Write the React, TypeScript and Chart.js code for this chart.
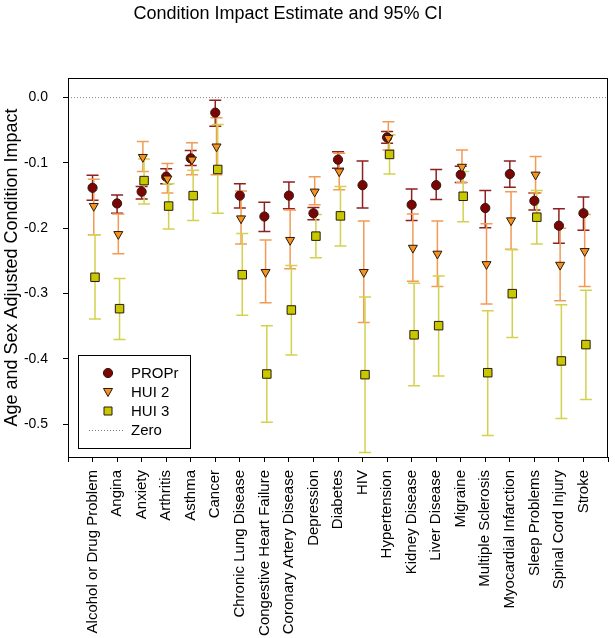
import React, { useEffect, useRef } from 'react';
import { Chart, registerables } from 'chart.js';

Chart.register(...registerables);

const TITLE = 'Condition Impact Estimate and 95% CI';
const Y_TITLE = 'Age and Sex Adjusted Condition Impact';

const CATEGORIES = [
  'Alcohol or Drug Problem', 'Angina', 'Anxiety', 'Arthritis', 'Asthma', 'Cancer',
  'Chronic Lung Disease', 'Congestive Heart Failure', 'Coronary Artery Disease',
  'Depression', 'Diabetes', 'HIV', 'Hypertension', 'Kidney Disease', 'Liver Disease',
  'Migraine', 'Multiple Sclerosis', 'Myocardial Infarction', 'Sleep Problems',
  'Spinal Cord Injury', 'Stroke',
];

const SERIES_NAMES = ['PROPr', 'HUI 2', 'HUI 3'];

const PROPR_EST = [-0.138, -0.162, -0.144, -0.121, -0.093, -0.023, -0.150, -0.182, -0.150, -0.177, -0.095, -0.134, -0.061, -0.164, -0.134, -0.118, -0.169, -0.117, -0.158, -0.196, -0.177];
const PROPR_HI = [-0.119, -0.149, -0.136, -0.109, -0.081, -0.004, -0.132, -0.160, -0.129, -0.168, -0.083, -0.097, -0.052, -0.140, -0.110, -0.105, -0.142, -0.097, -0.146, -0.170, -0.152];
const PROPR_LO = [-0.157, -0.177, -0.155, -0.132, -0.104, -0.044, -0.169, -0.205, -0.170, -0.187, -0.108, -0.169, -0.070, -0.188, -0.156, -0.130, -0.199, -0.137, -0.172, -0.223, -0.203];

const HUI2_EST = [-0.166, -0.209, -0.091, -0.124, -0.095, -0.075, -0.185, -0.267, -0.218, -0.144, -0.113, -0.267, -0.062, -0.230, -0.239, -0.106, -0.255, -0.188, -0.118, -0.256, -0.235];
const HUI2_HI = [-0.125, -0.178, -0.067, -0.101, -0.069, -0.031, -0.143, -0.218, -0.172, -0.121, -0.085, -0.189, -0.037, -0.178, -0.189, -0.080, -0.193, -0.144, -0.090, -0.200, -0.179];
const HUI2_LO = [-0.210, -0.239, -0.113, -0.146, -0.118, -0.118, -0.224, -0.314, -0.262, -0.164, -0.141, -0.344, -0.080, -0.281, -0.289, -0.130, -0.316, -0.232, -0.146, -0.311, -0.289];

const HUI3_EST = [-0.275, -0.323, -0.127, -0.166, -0.150, -0.110, -0.271, -0.423, -0.325, -0.212, -0.181, -0.424, -0.087, -0.363, -0.349, -0.151, -0.421, -0.300, -0.183, -0.403, -0.378];
const HUI3_HI = [-0.210, -0.277, -0.094, -0.132, -0.111, -0.041, -0.208, -0.349, -0.257, -0.179, -0.136, -0.305, -0.057, -0.284, -0.273, -0.113, -0.326, -0.233, -0.142, -0.317, -0.295];
const HUI3_LO = [-0.339, -0.370, -0.163, -0.201, -0.188, -0.177, -0.333, -0.497, -0.394, -0.245, -0.227, -0.543, -0.117, -0.441, -0.426, -0.190, -0.517, -0.367, -0.224, -0.491, -0.462];

const Y_TICKS = [0, -0.1, -0.2, -0.3, -0.4, -0.5];
const ZERO_LABEL = 'Zero';

const FONT = "'Liberation Sans', Arial, sans-serif";

const SERIES = [
  { name: SERIES_NAMES[0], est: PROPR_EST, lo: PROPR_LO, hi: PROPR_HI, fill: '#7d0404', ci: '#8e2020', style: 'circle', radius: 4.6, rot: 0, off: 0 },
  { name: SERIES_NAMES[1], est: HUI2_EST, lo: HUI2_LO, hi: HUI2_HI, fill: '#f7921e', ci: '#f39a55', style: 'triangle', radius: 5.2, rot: 180, off: 0.05 },
  { name: SERIES_NAMES[2], est: HUI3_EST, lo: HUI3_LO, hi: HUI3_HI, fill: '#c8c800', ci: '#d3d24f', style: 'rect', radius: 6, rot: 0, off: 0.1 },
];

const errorBarPlugin = {
  id: 'errorBars',
  beforeDatasetsDraw(chart: any) {
    const { ctx, scales } = chart;
    const xs = scales.x, ys = scales.y;
    ctx.save();
    SERIES.forEach((s) => {
      ctx.strokeStyle = s.ci;
      ctx.lineWidth = 1.5;
      s.est.forEach((_, i) => {
        const px = xs.getPixelForValue(i + s.off);
        const yl = ys.getPixelForValue(s.lo[i]);
        const yh = ys.getPixelForValue(s.hi[i]);
        ctx.beginPath();
        ctx.moveTo(px, yl); ctx.lineTo(px, yh);
        ctx.moveTo(px - 6, yl); ctx.lineTo(px + 6, yl);
        ctx.moveTo(px - 6, yh); ctx.lineTo(px + 6, yh);
        ctx.stroke();
      });
    });
    ctx.restore();
  },
};

const framePlugin = {
  id: 'frameTitleLegend',
  afterDraw(chart: any) {
    const { ctx, chartArea } = chart;
    const { left, right, top, bottom } = chartArea;
    ctx.save();
    ctx.strokeStyle = '#000';
    ctx.lineWidth = 1;
    ctx.strokeRect(Math.round(left) + 0.5, Math.round(top) + 0.5, Math.round(right - left) - 1, Math.round(bottom - top));
    ctx.fillStyle = '#000';
    ctx.font = `18px ${FONT}`;
    ctx.textAlign = 'center';
    ctx.textBaseline = 'middle';
    ctx.fillText(TITLE, 288, 14);
    const x0 = Math.round(left) + 10, y0 = Math.round(bottom) - 102, w = 112, h = 93;
    ctx.fillStyle = '#fff';
    ctx.fillRect(x0, y0, w, h);
    ctx.strokeStyle = '#000';
    ctx.strokeRect(x0 + 0.5, y0 + 0.5, w, h);
    const mx = x0 + 30, tx = x0 + 53;
    const rows = [18, 37, 56, 75];
    SERIES.forEach((s, k) => {
      const cy = y0 + rows[k];
      ctx.fillStyle = s.fill;
      ctx.strokeStyle = '#2a1a0a';
      ctx.lineWidth = 1;
      ctx.beginPath();
      if (s.style === 'circle') {
        ctx.arc(mx, cy, 4.6, 0, Math.PI * 2);
      } else if (s.style === 'triangle') {
        ctx.moveTo(mx - 4.5, cy - 3.5); ctx.lineTo(mx + 4.5, cy - 3.5); ctx.lineTo(mx, cy + 4.5); ctx.closePath();
      } else {
        ctx.rect(mx - 4, cy - 4, 8, 8);
      }
      ctx.fill();
      ctx.stroke();
      ctx.fillStyle = '#000';
      ctx.font = `15px ${FONT}`;
      ctx.textAlign = 'left';
      ctx.textBaseline = 'middle';
      ctx.fillText(s.name, tx, cy + 1);
    });
    const zy = y0 + rows[3];
    ctx.strokeStyle = '#777';
    ctx.setLineDash([1, 2]);
    ctx.beginPath();
    ctx.moveTo(x0 + 11, zy + 0.5); ctx.lineTo(x0 + 45, zy + 0.5);
    ctx.stroke();
    ctx.setLineDash([]);
    ctx.fillStyle = '#000';
    ctx.fillText(ZERO_LABEL, tx, zy + 1);
    ctx.restore();
  },
};

export default function App() {
  const ref = useRef<HTMLCanvasElement>(null);
  useEffect(() => {
    if (!ref.current) return;
    const n = CATEGORIES.length;
    const xTickValues = [-1, ...CATEGORIES.map((_, i) => i), n];
    const datasets: any[] = SERIES.map((s, k) => ({
      type: 'scatter',
      label: s.name,
      data: s.est.map((v, i) => ({ x: i + s.off, y: v })),
      pointStyle: s.style,
      pointRotation: s.rot,
      pointRadius: s.radius,
      pointBackgroundColor: s.fill,
      pointBorderColor: '#2a1a0a',
      pointBorderWidth: 1,
      showLine: false,
      order: 2 - k,
    }));
    datasets.push({
      type: 'line',
      label: ZERO_LABEL,
      data: [{ x: -1, y: 0 }, { x: n, y: 0 }],
      borderColor: '#888',
      borderWidth: 1,
      borderDash: [1, 2],
      pointRadius: 0,
      order: 5,
    });
    const chart = new Chart(ref.current, {
      type: 'scatter',
      data: { datasets },
      options: {
        animation: false,
        responsive: false,
        devicePixelRatio: 1,
        layout: { padding: { left: 0, right: 4, top: 78, bottom: 0 } },
        plugins: { legend: { display: false }, title: { display: false }, tooltip: { enabled: false } },
        scales: {
          x: {
            type: 'linear',
            min: -1,
            max: n,
            afterBuildTicks: (scale: any) => { scale.ticks = xTickValues.map((v) => ({ value: v })); },
            afterFit: (scale: any) => { scale.height = 181; scale.paddingLeft = 0; scale.paddingRight = 0; },
            grid: { display: true, drawOnChartArea: false, drawTicks: true, tickLength: 5, color: '#000', tickColor: '#000' },
            border: { display: true, color: '#000' },
            ticks: {
              autoSkip: false,
              minRotation: 90,
              maxRotation: 90,
              padding: 8,
              color: '#000',
              font: { family: FONT, size: 15 },
              callback: (v: any) => (CATEGORIES[v] !== undefined && Number.isInteger(v) ? CATEGORIES[v] : ''),
            },
          },
          y: {
            type: 'linear',
            min: -0.55,
            max: 0.03,
            afterBuildTicks: (scale: any) => { scale.ticks = Y_TICKS.map((v) => ({ value: v })); },
            afterFit: (scale: any) => { scale.width = 68; scale.paddingTop = 0; scale.paddingBottom = 0; },
            grid: { display: true, drawOnChartArea: false, drawTicks: true, tickLength: 5, color: '#000', tickColor: '#000' },
            border: { display: true, color: '#000' },
            ticks: {
              padding: 15,
              color: '#000',
              font: { family: FONT, size: 14 },
              callback: (v: any) => Number(v).toFixed(1),
            },
            title: {
              display: true,
              text: Y_TITLE,
              color: '#000',
              font: { family: FONT, size: 18 },
              padding: { top: 1, bottom: 0 },
            },
          },
        },
      },
      plugins: [errorBarPlugin, framePlugin],
    } as any);
    return () => chart.destroy();
  }, []);
  return (
    <div style={{ position: 'fixed', left: 0, top: 0, width: 615, height: 638, background: '#fff' }}>
      <canvas ref={ref} width={615} height={638} />
    </div>
  );
}
